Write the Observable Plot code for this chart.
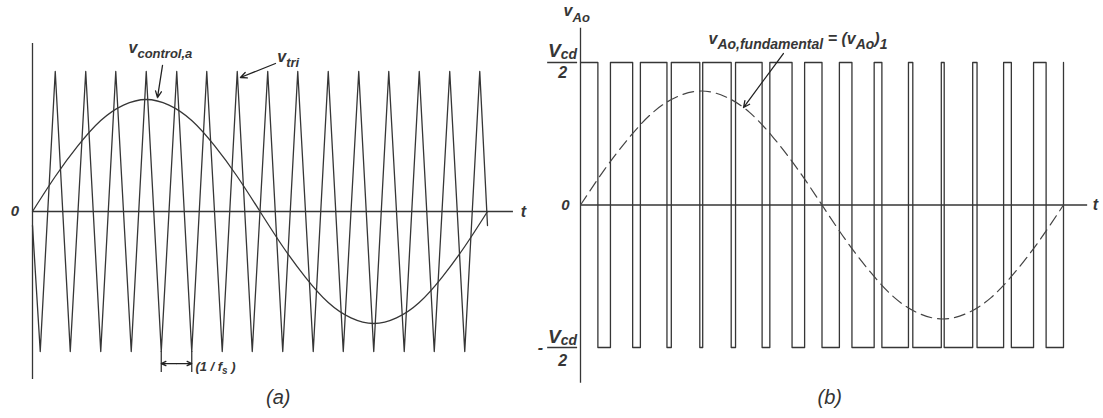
<!DOCTYPE html>
<html>
<head>
<meta charset="utf-8">
<script src="https://cdn.jsdelivr.net/npm/d3@7"></script>
<script src="https://cdn.jsdelivr.net/npm/@observablehq/plot@0.6"></script>
<style>
  html, body { margin: 0; padding: 0; background: #fff; }
  #figure { display: flex; width: 1103px; height: 418px; }
  #figure svg { display: block; flex: none; }
  #figure text { white-space: pre; }
</style>
</head>
<body>
<div id="figure"></div>
<script>
// Sinusoidal PWM over one fundamental period (t normalised to 0…1), m_f = 15, m_a = 0.8

// (a) triangular carrier v_tri: vertex times and values
const triT = [0, 0.017, 0.05, 0.083, 0.117, 0.15, 0.183, 0.217, 0.25, 0.283, 0.317,
              0.35, 0.383, 0.417, 0.45, 0.483, 0.517, 0.55, 0.583, 0.617, 0.65,
              0.683, 0.717, 0.75, 0.783, 0.817, 0.85, 0.883, 0.917, 0.95, 0.983, 1];
const triV = [-0.1, -1, 1, -1, 1, -1, 1, -1, 1, -1, 1,
              -1, 1, -1, 1, -1, 1, -1, 1, -1, 1,
              -1, 1, -1, 1, -1, 1, -1, 1, -1, 1, -0.1];

// (a) control signal v_control,a: sampled values
const ctrlT = [0, 0.05, 0.1, 0.15, 0.2, 0.25, 0.3, 0.35, 0.4, 0.45, 0.5,
               0.55, 0.6, 0.65, 0.7, 0.75, 0.8, 0.85, 0.9, 0.95, 1];
const ctrlV = [0, 0.25, 0.47, 0.65, 0.76, 0.8, 0.76, 0.65, 0.47, 0.25, 0,
               -0.25, -0.47, -0.65, -0.76, -0.8, -0.76, -0.65, -0.47, -0.25, 0];

// (b) pole voltage v_Ao: switching instants and the level (±Vcd/2) held after each
const pwmT = [0, 0.036, 0.062, 0.108, 0.124, 0.179, 0.188, 0.247, 0.253, 0.312, 0.321,
              0.376, 0.392, 0.438, 0.464, 0.5, 0.536, 0.562, 0.608, 0.624, 0.679,
              0.688, 0.747, 0.753, 0.812, 0.821, 0.876, 0.892, 0.938, 0.964, 1];
const pwmV = [1, -1, 1, -1, 1, -1, 1, -1, 1, -1, 1,
              -1, 1, -1, 1, -1, 1, -1, 1, -1, 1,
              -1, 1, -1, 1, -1, 1, -1, 1, -1, 1];

// (b) fundamental component (v_Ao)_1: sampled values
const fundT = [0, 0.05, 0.1, 0.15, 0.2, 0.25, 0.3, 0.35, 0.4, 0.45, 0.5,
               0.55, 0.6, 0.65, 0.7, 0.75, 0.8, 0.85, 0.9, 0.95, 1];
const fundV = [0, 0.25, 0.47, 0.65, 0.76, 0.8, 0.76, 0.65, 0.47, 0.25, 0,
               -0.25, -0.47, -0.65, -0.76, -0.8, -0.76, -0.65, -0.47, -0.25, 0];

const ink = "#363636";
const font = "'Liberation Sans', Arial, Helvetica, sans-serif";
const zip = (ts, vs) => ts.map((t, i) => ({t, v: vs[i]}));

// Rich labels: Plot draws the text, then its parts are re-laid as tspans
// so that subscripts sit lower and smaller.
const richParts = new Map();
function rich(x, y, parts, {size = 16, sub = 13, shift = 5, anchor = "start", ...rest} = {}) {
  const whole = parts.map((p) => p[0]).join("");
  richParts.set(whole, {parts, sub, shift});
  return Plot.text([whole], {
    x, y, text: (d) => d,
    fontSize: size, fontFamily: font, fontWeight: "bold", fontStyle: "italic",
    textAnchor: anchor, lineAnchor: "bottom", fill: ink, ...rest
  });
}
function applyRich(svg) {
  d3.select(svg).selectAll("text").each(function () {
    const spec = richParts.get(this.textContent);
    if (!spec) return;
    const {parts, sub, shift} = spec;
    const el = d3.select(this);
    el.text(null);
    let cur = 0;
    for (const [str, kind] of parts) {
      const isSub = kind === "sub";
      const target = isSub ? shift : 0;
      el.append("tspan")
        .attr("dy", target - cur)
        .attr("font-size", isSub ? sub : null)
        .text(str);
      cur = target;
    }
  });
}
const plain = (x, y, str, opts = {}) =>
  Plot.text([str], {x, y, text: (d) => d, fontFamily: font, fontWeight: "bold",
                    fontStyle: "italic", fontSize: 15, fill: ink, ...opts});

const line = {stroke: ink, strokeWidth: 1.3};
const arrowStyle = {stroke: "#222", strokeWidth: 1.3, headLength: 8, headAngle: 50};

// ---------- (a) carrier and control signal ----------
const plotA = Plot.plot({
  width: 540, height: 418,
  marginLeft: 32, marginRight: 53, marginTop: 71, marginBottom: 67,
  x: {domain: [0, 1], axis: null},
  y: {domain: [-1, 1], axis: null},
  style: {background: "white", overflow: "visible", fontFamily: font},
  marks: [
    Plot.ruleY([0], {x1: 0, x2: 1.057, ...line}),
    Plot.ruleX([0], {y1: -1.2, y2: 1.2, ...line}),
    Plot.line(zip(triT, triV), {x: "t", y: "v", ...line}),
    Plot.line(zip(ctrlT, ctrlV), {x: "t", y: "v", curve: "natural", ...line}),
    // one carrier period, marked between two successive troughs
    Plot.ruleX([triT[9], triT[11]], {y1: -1, y2: -1.15, ...line}),
    Plot.arrow([0], {x1: (triT[9] + triT[11]) / 2, x2: triT[9], y1: -1.086, y2: -1.086, ...arrowStyle, headLength: 6}),
    Plot.arrow([0], {x1: (triT[9] + triT[11]) / 2, x2: triT[11], y1: -1.086, y2: -1.086, ...arrowStyle, headLength: 6}),
    Plot.arrow([0], {x1: 0.2857, y1: 1.043, x2: 0.2747, y2: 0.814, ...arrowStyle}),
    Plot.arrow([0], {x1: 0.534, y1: 1.057, x2: 0.457, y2: 0.957, ...arrowStyle}),
    plain(0, 0, "0", {dx: -17.5}),
    plain(1.079, 0, "t", {fontSize: 16}),
    rich(0.211, 1.129, [["v", "main"], ["control,a", "sub"]]),
    rich(0.538, 1.071, [["v", "main"], ["tri", "sub"]]),
    rich(0.358, -1.136, [["(1 / f", "main"], ["s", "sub"], [" )", "main"]],
         {size: 13, sub: 10, shift: 3, letterSpacing: 1.5}),
    Plot.text(["(a)"], {x: 0.54, y: -1.329, text: (d) => d, fontFamily: font,
                        fontStyle: "italic", fontSize: 20, fill: "#333"})
  ]
});

// ---------- (b) pole voltage and its fundamental ----------
const plotB = Plot.plot({
  width: 563, height: 418,
  marginLeft: 40, marginRight: 40, marginTop: 62, marginBottom: 71,
  x: {domain: [0, 1], axis: null},
  y: {domain: [-1, 1], axis: null},
  style: {background: "white", overflow: "visible", fontFamily: font},
  marks: [
    Plot.ruleY([0], {x1: 0, x2: 1.05, ...line}),
    Plot.ruleX([0], {y1: -1.25, y2: 1.24, ...line}),
    Plot.line(zip(pwmT, pwmV), {x: "t", y: "v", curve: "step-after", ...line}),
    Plot.line(zip(fundT, fundV), {x: "t", y: "v", curve: "natural", stroke: "#444",
                                  strokeWidth: 1.2, strokeDasharray: "11,6"}),
    Plot.arrow([0], {x1: 0.42, y1: 1.063, x2: 0.3375, y2: 0.684, ...arrowStyle}),
    // ±Vcd/2 tick labels
    Plot.ruleY([1, -1], {x1: -0.068, x2: -0.006, stroke: ink, strokeWidth: 1.5}),
    rich(-0.037, 1.039, [["V", "main"], ["cd", "sub"]], {size: 19, sub: 14, shift: 2.5, anchor: "middle"}),
    plain(-0.037, 0.926, "2", {fontSize: 16}),
    rich(-0.037, -0.965, [["V", "main"], ["cd", "sub"]], {size: 19, sub: 14, shift: 2.5, anchor: "middle"}),
    plain(-0.037, -1.092, "2", {fontSize: 16}),
    plain(-0.083, -1, "-", {fontSize: 16}),
    plain(0, 0, "0", {dx: -15}),
    plain(1.066, 0, "t", {fontSize: 16}),
    rich(-0.035, 1.323, [["v", "main"], ["Ao", "sub"]], {size: 16, sub: 13, shift: 6}),
    rich(0.265, 1.133, [["v", "main"], ["Ao,fundamental", "sub"], [" = (", "main"],
                        ["v", "main"], ["Ao", "sub"], [")", "main"], ["1", "sub"]],
         {size: 16, sub: 14, shift: 5}),
    Plot.text(["(b)"], {x: 0.516, y: -1.35, text: (d) => d, fontFamily: font,
                        fontStyle: "italic", fontSize: 20, fill: "#333"})
  ]
});

applyRich(plotA);
applyRich(plotB);
const fig = document.getElementById("figure");
fig.append(plotA, plotB);
</script>
</body>
</html>
